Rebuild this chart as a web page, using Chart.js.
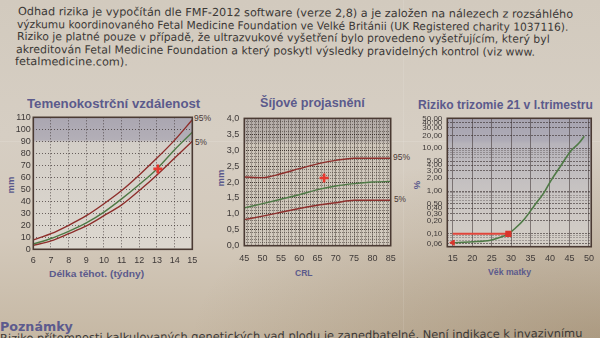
<!DOCTYPE html>
<html><head><meta charset="utf-8">
<script src="https://cdn.jsdelivr.net/npm/chart.js@4.4.1/dist/chart.umd.min.js"></script>
<style>
html,body{margin:0;padding:0;width:600px;height:338px;overflow:hidden}
body{position:relative;
 background:
  radial-gradient(ellipse 420px 200px at 610px 345px, rgba(120,95,60,0.35), rgba(120,95,60,0) 100%),
  linear-gradient(180deg,#d2cabe 0%,#d6cec3 40%,#d3c9bb 70%,#c6b8a4 100%);}
.t{position:absolute;white-space:nowrap;transform-origin:0 50%;line-height:12px;}
.body{font-family:"DejaVu Sans",sans-serif;font-size:11px;color:#3b3836;}
.title{font-family:"Liberation Sans",Arial,sans-serif;font-weight:bold;font-size:13px;color:#5b5a8c;line-height:14px}
.axt{font-family:"Liberation Sans",Arial,sans-serif;font-weight:bold;font-size:9.5px;color:#5b5a8c}
.pct{font-family:"Liberation Sans",Arial,sans-serif;font-size:9px;color:#4a3a38}
.rot{position:absolute;white-space:nowrap;font-family:"Liberation Sans",Arial,sans-serif;font-weight:bold;font-size:9.5px;color:#5b5a8c;transform:translate(-50%,-50%) rotate(-90deg);line-height:10px}
canvas{position:absolute}
.crease{position:absolute;left:0;width:600px;top:141px;height:1px;background:rgba(255,255,255,0.12)}
.vcrease{position:absolute;top:0;height:338px;left:403px;width:1px;background:rgba(255,255,255,0.10)}
</style>
</head><body>
<div class="crease"></div><div class="vcrease"></div>

<div class="t body" style="left:18px;top:6px" data-w="555" data-r="0.3">Odhad rizika je vypočítán dle FMF-2012 software (verze 2,8) a je založen na nálezech z rozsáhlého</div>
<div class="t body" style="left:17px;top:18.5px" data-w="551" data-r="0.3">výzkumu koordinovaného Fetal Medicine Foundation ve Velké Británii (UK Registered charity 1037116).</div>
<div class="t body" style="left:17px;top:31px" data-w="533" data-r="0.3">Riziko je platné pouze v případě, že ultrazvukové vyšetření bylo provedeno vyšetřujícím, který byl</div>
<div class="t body" style="left:16px;top:43.5px" data-w="519" data-r="0.3">akreditován Fetal Medicine Foundation a který poskytl výsledky pravidelných kontrol (viz www.</div>
<div class="t body" style="left:15px;top:56px" data-w="113" data-r="0.3">fetalmedicine.com).</div>

<div class="t title" style="top:97px" data-c="113" data-w="173">Temenokostrční vzdálenost</div>
<div class="t title" style="top:96px" data-c="312" data-w="105">Šíjové projasnění</div>
<div class="t title" style="top:98px" data-c="505" data-w="175">Riziko trizomie 21 v I.trimestru</div>

<div class="t axt" style="top:268px" data-c="96" data-w="95">Délka těhot. (týdny)</div>
<div class="t axt" style="top:267px" data-c="304" data-w="18">CRL</div>
<div class="t axt" style="top:266px" data-c="509" data-w="43">Věk matky</div>

<div class="rot" style="left:11px;top:185px">mm</div>
<div class="rot" style="left:221px;top:178px">mm</div>
<div class="rot" style="left:417px;top:185px">%</div>

<div class="t pct" style="top:112px" data-c="202" data-w="17">95%</div>
<div class="t pct" style="top:136px" data-c="201" data-w="12">5%</div>
<div class="t pct" style="top:151px" data-c="401" data-w="17">95%</div>
<div class="t pct" style="top:193px" data-c="400" data-w="12">5%</div>

<div class="t" style="left:0px;top:320px;font-family:'DejaVu Sans',sans-serif;font-weight:bold;font-size:12.5px;color:#5c5b8e;line-height:13px" data-w="73">Poznámky</div>
<div class="t body" style="left:0px;top:333px" data-w="582" data-r="-0.5">Riziko přítomnosti kalkulovaných genetických vad plodu je zanedbatelné. Není indikace k invazivnímu</div>

<canvas id="c1" width="215" height="162" style="left:0px;top:108px;width:215px;height:162px"></canvas>
<canvas id="c2" width="195" height="162" style="left:210px;top:108px;width:195px;height:162px"></canvas>
<canvas id="c3" width="195" height="162" style="left:405px;top:108px;width:195px;height:162px"></canvas>

<script>
// ---------- DATA ----------
// Chart 1: Temenokostrční vzdálenost (CRL vs gestational week)
const crlWeeks   = [6, 7, 8, 9, 10, 11, 12, 13, 14, 15];
const crlP95     = [7.8, 13, 20, 28, 38, 49, 62, 76, 91, 108];
const crlMedian  = [4.4, 9, 15, 22, 31, 42, 54, 67, 83, 97.5];
const crlP5      = [3.3, 7, 13, 19.5, 28, 37, 49, 62, 76, 90];
const crlMeasuredWeek = [13.05];
const crlMeasuredMm   = [67];
const crlXTicks = [6, 7, 8, 9, 10, 11, 12, 13, 14, 15];
const crlYTicks = [0, 10, 20, 30, 40, 50, 60, 70, 80, 90, 100, 110];

// Chart 2: Šíjové projasnění (NT vs CRL)
const ntCrl     = [45, 50, 55, 60, 65, 70, 75, 80, 85];
const ntP95     = [2.16, 2.14, 2.26, 2.42, 2.57, 2.68, 2.75, 2.75, 2.75];
const ntMedian  = [1.19, 1.32, 1.46, 1.6, 1.76, 1.875, 1.95, 2.0, 2.02];
const ntP5      = [0.82, 0.93, 1.05, 1.17, 1.27, 1.35, 1.43, 1.43, 1.43];
const ntMeasuredCrl = [66.8];
const ntMeasuredMm  = [2.125];
const ntXLabels = ['45', '50', '55', '60', '65', '70', '75', '80', '85'];
const ntYLabels = ['0,0', '0,5', '1,0', '1,5', '2,0', '2,5', '3,0', '3,5', '4,0'];

// Chart 3: Riziko trizomie 21 (risk % vs maternal age)
const riskAge     = [15, 20, 24.7, 27.6, 29.3, 31, 33.5, 36, 38.5, 40.2, 42.7, 45.3, 47.4, 48.8];
const riskPercent = [0.062, 0.065, 0.071, 0.085, 0.1, 0.133, 0.226, 0.46, 0.93, 1.73, 3.8, 8.5, 13, 19];
const riskMeasuredAge     = [29.3];
const riskMeasuredPercent = [0.1];
const riskRefStartAge     = [15];
const riskRefStartPercent = [0.062];
const riskXTicks = [15, 20, 25, 30, 35, 40, 45, 50];
const riskYGrid  = [0.05,0.06,0.07,0.08,0.09,0.1,0.2,0.3,0.4,0.5,0.6,0.7,0.8,0.9,1,2,3,4,5,6,7,8,9,10,20,30,40,50];
const riskYLabels = [0.06,0.1,0.2,0.3,0.4,0.5,1,2,3,4,5,10,20,30,40,50];

// ---------- HELPERS ----------
const pts = (xs, ys) => xs.map((x, i) => ({x, y: ys[i]}));
const RED = '#8e2f2c', GREEN = '#4f7a46', MARK = '#e5392f', FRAME = '#4a3a33';
const tickFont = {family: "'Liberation Sans', Arial, sans-serif", size: 9};
const tickColor = '#3e3938';

const plotBg = {
  id: 'plotBg',
  beforeDraw(chart, args, o) {
    const {ctx, chartArea: a} = chart;
    const g = ctx.createLinearGradient(0, a.top, 0, a.bottom);
    o.stops.forEach(s => g.addColorStop(s[0], s[1]));
    ctx.save(); ctx.fillStyle = g; ctx.fillRect(a.left, a.top, a.right - a.left, a.bottom - a.top); ctx.restore();
  },
  afterDatasetsDraw(chart) {
    const {ctx, chartArea: a} = chart;
    ctx.save(); ctx.strokeStyle = FRAME; ctx.lineWidth = 1.6;
    ctx.strokeRect(a.left, a.top, a.right - a.left, a.bottom - a.top); ctx.restore();
  }
};
Chart.register(plotBg);

function fixAxes(yW, xH) {
  return {
    y: s => { s.width = yW; },
    x: s => { s.height = xH; }
  };
}
function curve(data, color, w) {
  return {data, borderColor: color, borderWidth: w || 1.4, pointRadius: 0, fill: false,
          cubicInterpolationMode: 'monotone', order: 2};
}
function marker(data) {
  return {data, showLine: false, pointStyle: 'cross', pointRadius: 4.5, pointBorderWidth: 2.6,
          pointBorderColor: MARK, borderColor: MARK, backgroundColor: MARK, order: 0};
}
const base = {
  responsive: false, animation: false, devicePixelRatio: 1,
  plugins: {legend: {display: false}, tooltip: {enabled: false}},
  events: []
};

// ---------- CHART 1 ----------
const f1 = fixAxes(33.3, 20.7);
new Chart(document.getElementById('c1'), {
  type: 'line',
  data: {datasets: [
    curve(pts(crlWeeks, crlP95), RED),
    curve(pts(crlWeeks, crlMedian), GREEN),
    curve(pts(crlWeeks, crlP5), RED),
    marker(pts(crlMeasuredWeek, crlMeasuredMm))
  ]},
  options: Object.assign({}, base, {
    layout: {padding: {top: 9.3, right: 22.7, left: 0, bottom: 0}},
    plugins: Object.assign({}, base.plugins, {plotBg: {stops: [[0,'#aaa6b1'],[0.17,'#b3afb7'],[0.19,'#d3cec7'],[1,'#dcd7cf']]}}),
    scales: {
      x: {type: 'linear', min: 6, max: 15, afterFit: f1.x,
          afterBuildTicks: s => { s.ticks = crlXTicks.map(v => ({value: v})); },
          ticks: {font: tickFont, color: tickColor, padding: 6, autoSkip: false, maxRotation: 0},
          grid: {color: 'rgba(55,45,45,0.7)', lineWidth: 1, drawTicks: false},
          border: {display: false, dash: [1, 2]}},
      y: {type: 'linear', min: 0, max: 110, afterFit: f1.y,
          afterBuildTicks: s => { s.ticks = crlYTicks.map(v => ({value: v})); },
          ticks: {font: tickFont, color: tickColor, padding: 2.6, autoSkip: false},
          grid: {color: 'rgba(55,45,45,0.7)', lineWidth: 1, drawTicks: false},
          border: {display: false, dash: [1, 2]}}
    }
  })
});

// ---------- CHART 2 ----------
const f2 = fixAxes(34.3, 24.3);
const ntXGrid = []; for (let i = 45; i <= 85; i++) ntXGrid.push(i);
const ntYGrid = []; for (let i = 0; i <= 40; i++) ntYGrid.push(i / 10);
new Chart(document.getElementById('c2'), {
  type: 'line',
  data: {datasets: [
    curve(pts(ntCrl, ntP95), RED),
    curve(pts(ntCrl, ntMedian), GREEN),
    curve(pts(ntCrl, ntP5), RED),
    marker(pts(ntMeasuredCrl, ntMeasuredMm))
  ]},
  options: Object.assign({}, base, {
    layout: {padding: {top: 9.7, right: 14.3, left: 0, bottom: 0}},
    plugins: Object.assign({}, base.plugins, {plotBg: {stops: [[0,'#b4ada9'],[0.18,'#bcb4ae'],[0.2,'#cec6ba'],[1,'#d2cabe']]}}),
    scales: {
      x: {type: 'linear', min: 45, max: 85, afterFit: f2.x,
          afterBuildTicks: s => { s.ticks = ntXGrid.map(v => ({value: v})); },
          ticks: {font: tickFont, color: tickColor, padding: 7, autoSkip: false, maxRotation: 0,
                  callback: v => { const i = ntXLabels.indexOf(String(v)); return i >= 0 ? ntXLabels[i] : ''; }},
          grid: {color: c => (c.tick && c.tick.value % 5 === 0) ? 'rgba(45,35,30,0.85)' : 'rgba(55,45,40,0.6)',
                 lineWidth: 1, drawTicks: false},
          border: {display: false, dash: [1, 1]}},
      y: {type: 'linear', min: 0, max: 4, afterFit: f2.y,
          afterBuildTicks: s => { s.ticks = ntYGrid.map(v => ({value: v})); },
          ticks: {font: tickFont, color: tickColor, padding: 5, autoSkip: false,
                  callback: (v, i) => (i % 5 === 0) ? ntYLabels[i / 5] : ''},
          grid: {color: c => (c.index % 5 === 0) ? 'rgba(45,35,30,0.85)' : 'rgba(55,45,40,0.55)',
                 lineWidth: 1, drawTicks: false},
          border: {display: false, dash: [1, 1]}}
    }
  })
});

// ---------- CHART 3 ----------
const f3 = fixAxes(42.3, 23.3);
new Chart(document.getElementById('c3'), {
  type: 'line',
  data: {datasets: [
    curve(pts(riskAge, riskPercent), GREEN, 1.6),
    {data: [{x: riskRefStartAge[0], y: riskMeasuredPercent[0]}, {x: riskMeasuredAge[0], y: riskMeasuredPercent[0]}],
     borderColor: '#e0453a', borderWidth: 2, pointRadius: [0, 3], pointStyle: 'rect',
     pointBackgroundColor: '#d9362d', pointBorderColor: '#d9362d', order: 1},
    {data: pts(riskRefStartAge, riskRefStartPercent), showLine: false, pointStyle: 'triangle', rotation: -90,
     pointRadius: 3, pointBackgroundColor: '#d9362d', pointBorderColor: '#d9362d', order: 0}
  ]},
  options: Object.assign({}, base, {
    layout: {padding: {top: 10.3, right: 6, left: 0, bottom: 0}},
    plugins: Object.assign({}, base.plugins, {plotBg: {stops: [[0,'#a7a4b1'],[0.17,'#aeabb6'],[0.2,'#b7b4bb'],[0.6,'#c9c5c3'],[1,'#d4cec6']]}}),
    scales: {
      x: {type: 'linear', min: 13.6, max: 50.6, afterFit: f3.x,
          afterBuildTicks: s => { s.ticks = riskXTicks.map(v => ({value: v})); },
          ticks: {font: tickFont, color: tickColor, padding: 6, autoSkip: false, maxRotation: 0},
          grid: {color: 'rgba(60,50,50,0.55)', lineWidth: 1, drawTicks: false},
          border: {display: false}},
      y: {type: 'logarithmic', min: 0.05, max: 50, afterFit: f3.y,
          afterBuildTicks: s => { s.ticks = riskYGrid.map(v => ({value: v})); },
          ticks: {font: {family: tickFont.family, size: 8}, color: tickColor, padding: 5, autoSkip: false,
                  callback: v => riskYLabels.includes(v) ? v.toFixed(2).replace('.', ',') : ''},
          grid: {color: c => (c.tick && riskYLabels.includes(c.tick.value)) ? 'rgba(55,45,45,0.6)' : 'rgba(70,60,60,0.35)',
                 lineWidth: 1, drawTicks: false},
          border: {display: false, dash: [2, 1]}}
    }
  })
});

// ---------- TEXT FITTING ----------
function fitText() {
  document.querySelectorAll('[data-w]').forEach(el => {
    el.style.transform = 'none';
    const w = el.offsetWidth;
    const target = +el.dataset.w;
    const s = target / w;
    const r = el.dataset.r || 0;
    if (el.dataset.c) el.style.left = (+el.dataset.c - target / 2) + 'px';
    el.style.transform = 'rotate(' + r + 'deg) scaleX(' + s + ')';
  });
}
fitText();
if (document.fonts && document.fonts.ready) document.fonts.ready.then(fitText);
</script>
</body></html>
